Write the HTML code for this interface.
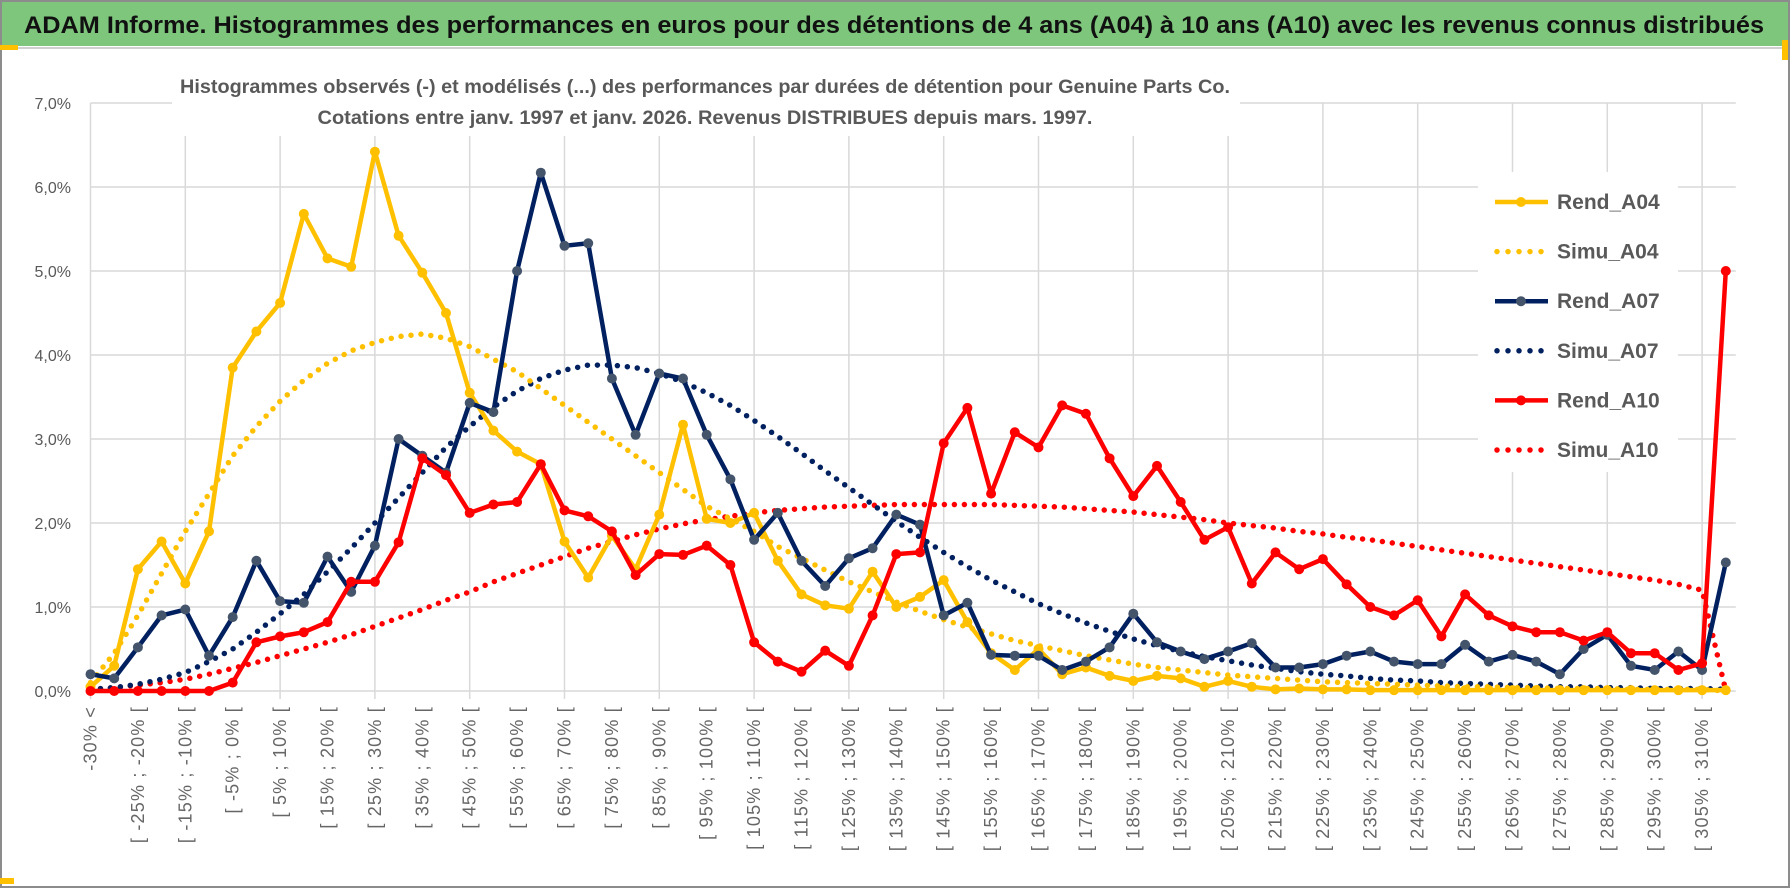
<!DOCTYPE html>
<html><head><meta charset="utf-8">
<style>
html,body{margin:0;padding:0;background:#fff;}
svg{display:block;font-family:"Liberation Sans",sans-serif;}
</style></head>
<body>
<svg id="chart" width="1790" height="888" viewBox="0 0 1790 888" xmlns="http://www.w3.org/2000/svg">
  <rect x="0" y="0" width="1790" height="888" fill="#fff"/>
  <rect x="1" y="1" width="1788" height="886" fill="none" stroke="#8c8c8c" stroke-width="2"/>
  <rect x="2" y="2" width="1786" height="44" fill="#7dc67c"/>
  <line x1="2" y1="48" x2="1788" y2="48" stroke="#d0d0d0" stroke-width="2"/>
  <rect x="0" y="45" width="18" height="5" fill="#ffc000"/>
  <rect x="1782" y="40" width="6" height="20" fill="#ffc000"/>
  <rect x="0" y="878" width="14" height="6" fill="#ffc000"/>
  <text x="24" y="33" font-size="24" font-weight="bold" fill="#111" textLength="1740" lengthAdjust="spacingAndGlyphs">ADAM Informe. Histogrammes des performances en euros pour des détentions de 4 ans (A04) à 10 ans (A10) avec les revenus connus distribués</text>
  <g id="grid"></g>
  <rect x="172" y="60" width="1068" height="76" fill="#fff"/>
  <text x="705" y="93" font-size="19" font-weight="bold" fill="#595959" text-anchor="middle" textLength="1050" lengthAdjust="spacingAndGlyphs">Histogrammes observés (-) et modélisés (...) des performances par durées de détention pour Genuine Parts Co.</text>
  <text x="705" y="124" font-size="19" font-weight="bold" fill="#595959" text-anchor="middle" textLength="775" lengthAdjust="spacingAndGlyphs">Cotations entre janv. 1997 et janv. 2026. Revenus DISTRIBUES depuis mars. 1997.</text>
  <g id="yaxis"></g>
  <g id="xaxis"></g>
  <g id="series"></g>
  <g id="legend"></g>
</svg>
<script>
const rendA04 = [0.05,0.3,1.45,1.78,1.28,1.9,3.85,4.28,4.62,5.68,5.15,5.05,6.42,5.42,4.98,4.5,3.55,3.1,2.85,2.7,1.78,1.35,1.85,1.45,2.1,3.17,2.05,2.0,2.12,1.55,1.15,1.02,0.98,1.42,1.0,1.12,1.32,0.82,0.45,0.25,0.5,0.2,0.28,0.18,0.12,0.18,0.15,0.05,0.12,0.05,0.02,0.03,0.02,0.02,0.01,0.01,0.01,0.01,0.01,0.01,0.01,0.01,0.01,0.01,0.01,0.01,0.01,0.01,0.01,0.01];
const simuA04 = [0.1,0.45,0.9,1.4,1.9,2.35,2.8,3.15,3.45,3.7,3.9,4.05,4.15,4.22,4.25,4.2,4.1,3.95,3.8,3.6,3.4,3.2,3.0,2.8,2.6,2.4,2.2,2.05,1.9,1.72,1.58,1.44,1.3,1.18,1.06,0.95,0.85,0.76,0.68,0.6,0.54,0.48,0.42,0.37,0.32,0.28,0.25,0.22,0.19,0.17,0.15,0.13,0.11,0.1,0.09,0.08,0.07,0.06,0.05,0.05,0.04,0.04,0.03,0.03,0.03,0.02,0.02,0.02,0.02,0.0];
const rendA07 = [0.2,0.15,0.52,0.9,0.97,0.42,0.88,1.55,1.07,1.05,1.6,1.18,1.73,3.0,2.8,2.6,3.43,3.32,5.0,6.17,5.3,5.33,3.72,3.05,3.78,3.72,3.05,2.52,1.8,2.12,1.55,1.25,1.58,1.7,2.1,1.98,0.9,1.05,0.43,0.42,0.42,0.25,0.35,0.52,0.92,0.58,0.47,0.38,0.47,0.57,0.28,0.28,0.32,0.42,0.47,0.35,0.32,0.32,0.55,0.35,0.43,0.35,0.2,0.5,0.67,0.3,0.25,0.47,0.25,1.53];
const simuA07 = [0.02,0.04,0.08,0.14,0.22,0.35,0.5,0.7,0.92,1.15,1.42,1.7,2.0,2.3,2.6,2.9,3.15,3.38,3.57,3.72,3.82,3.88,3.88,3.85,3.78,3.68,3.55,3.4,3.22,3.03,2.83,2.62,2.42,2.22,2.02,1.83,1.65,1.48,1.32,1.18,1.04,0.92,0.81,0.71,0.62,0.54,0.47,0.41,0.36,0.31,0.27,0.23,0.2,0.18,0.15,0.13,0.12,0.1,0.09,0.08,0.07,0.06,0.05,0.05,0.04,0.04,0.03,0.03,0.03,0.02];
const rendA10 = [0,0,0,0,0,0,0.1,0.58,0.65,0.7,0.82,1.3,1.3,1.77,2.77,2.57,2.12,2.22,2.25,2.7,2.15,2.08,1.9,1.38,1.63,1.62,1.73,1.5,0.58,0.35,0.23,0.48,0.3,0.9,1.63,1.65,2.95,3.37,2.35,3.08,2.9,3.4,3.3,2.77,2.32,2.68,2.25,1.8,1.95,1.28,1.65,1.45,1.57,1.27,1.0,0.9,1.08,0.65,1.15,0.9,0.77,0.7,0.7,0.6,0.7,0.45,0.45,0.25,0.33,5.0];
const simuA10 = [0.02,0.04,0.07,0.1,0.14,0.2,0.27,0.34,0.42,0.5,0.58,0.67,0.77,0.87,0.97,1.08,1.18,1.3,1.4,1.5,1.6,1.7,1.78,1.86,1.93,1.99,2.04,2.08,2.12,2.15,2.17,2.19,2.2,2.21,2.22,2.22,2.22,2.22,2.22,2.21,2.2,2.19,2.17,2.15,2.13,2.1,2.07,2.04,2.0,1.97,1.94,1.9,1.87,1.83,1.8,1.76,1.72,1.68,1.64,1.6,1.56,1.52,1.48,1.44,1.4,1.36,1.32,1.27,1.2,0.0];
const yTicks = [0,1,2,3,4,5,6,7];
const yTickLabels = ["0,0%","1,0%","2,0%","3,0%","4,0%","5,0%","6,0%","7,0%"];
const categories = ["-30% <"];
for (let k = 1; k < 69; k++) { const a = -30 + 5*(k-1); categories.push("[ " + a + "% ; " + (a+5) + "% ["); }
categories.push("310% >");

const NS = "http://www.w3.org/2000/svg";
const X0 = 90.5, STEP = 23.7, Y0 = 691, YS = 84;
function xPos(i){ return X0 + STEP*i; }
function yPos(v){ return Y0 - YS*v; }
function mk(tag, attrs, parent){ const e = document.createElementNS(NS, tag); for (const k in attrs) e.setAttribute(k, attrs[k]); parent.appendChild(e); return e; }

const grid = document.getElementById('grid');
const xRight = xPos(categories.length - 1) + 10;
yTicks.forEach(function(t){
  const l = mk('line', {x1: X0, x2: xRight, y1: yPos(t), y2: yPos(t), stroke: '#d9d9d9', 'stroke-width': 1.5}, grid);
  
  
});
for (let i = 0; i < categories.length; i += 4) {
  const l = mk('line', {x1: xPos(i), x2: xPos(i), y1: yPos(7), y2: Y0 + 8, stroke: '#d9d9d9', 'stroke-width': 1.5}, grid);
  
  
}

const yaxis = document.getElementById('yaxis');
yTicks.forEach(function(t, k){
  const tx = mk('text', {x: 71, y: yPos(t) + 6, 'text-anchor': 'end', 'font-size': 16, fill: '#595959'}, yaxis);
  tx.textContent = yTickLabels[k];
  
  
});

const xaxis = document.getElementById('xaxis');
for (let i = 0; i < categories.length; i += 2) {
  const x = xPos(i) + 6, y = 706;
  const tx = mk('text', {x: x, y: y, 'text-anchor': 'end', 'font-size': 18, 'letter-spacing': 1.2, fill: '#666', transform: 'rotate(-90 ' + x + ' ' + y + ')'}, xaxis);
  tx.textContent = categories[i];
  
  
}

const seriesG = document.getElementById('series');
function drawDotted(vals, color, name){
  const pts = vals.map(function(v,i){ return xPos(i) + ',' + yPos(v); }).join(' ');
  const p = mk('polyline', {points: pts, fill: 'none', stroke: color, 'stroke-width': 5.5, 'stroke-linecap': 'round', 'stroke-dasharray': '0 10'}, seriesG);
  
  
}
function drawSolid(vals, color, marker, name){
  const pts = vals.map(function(v,i){ return xPos(i) + ',' + yPos(v); }).join(' ');
  const p = mk('polyline', {points: pts, fill: 'none', stroke: color, 'stroke-width': 4.5, 'stroke-linejoin': 'round'}, seriesG);
  
  
  vals.forEach(function(v,i){
    const c = mk('circle', {cx: xPos(i), cy: yPos(v), r: 5, fill: marker}, seriesG);
    
    
  });
}
drawDotted(simuA10, '#ff0000', 'simu-a10');
drawDotted(simuA07, '#002060', 'simu-a07');
drawDotted(simuA04, '#ffc000', 'simu-a04');
drawSolid(rendA04, '#ffc000', '#ffc000', 'rend-a04');
drawSolid(rendA07, '#002060', '#44546a', 'rend-a07');
drawSolid(rendA10, '#ff0000', '#ff0000', 'rend-a10');

const legend = document.getElementById('legend');
const lbg = mk('rect', {x: 1478, y: 172, width: 200, height: 300, fill: '#fff'}, legend);


const legendItems = [["Rend_A04","#ffc000","#ffc000",false],["Simu_A04","#ffc000","",true],["Rend_A07","#002060","#44546a",false],["Simu_A07","#002060","",true],["Rend_A10","#ff0000","#ff0000",false],["Simu_A10","#ff0000","",true]];
legendItems.forEach(function(it, k){
  const y = 202 + k*49.6;
  if (it[3]) {
    const l = mk('line', {x1: 1497, x2: 1547, y1: y, y2: y, stroke: it[1], 'stroke-width': 5.5, 'stroke-linecap': 'round', 'stroke-dasharray': '0 11'}, legend);
    
    
  } else {
    const l = mk('line', {x1: 1495, x2: 1548, y1: y, y2: y, stroke: it[1], 'stroke-width': 4.5}, legend);
    
    
    const c = mk('circle', {cx: 1521, cy: y, r: 5, fill: it[2]}, legend);
    
    
  }
  const t = mk('text', {x: 1557, y: y + 7, 'font-size': 21, 'font-weight': 'bold', fill: '#595959'}, legend);
  t.textContent = it[0];
  
  
});
</script>
</body></html>
